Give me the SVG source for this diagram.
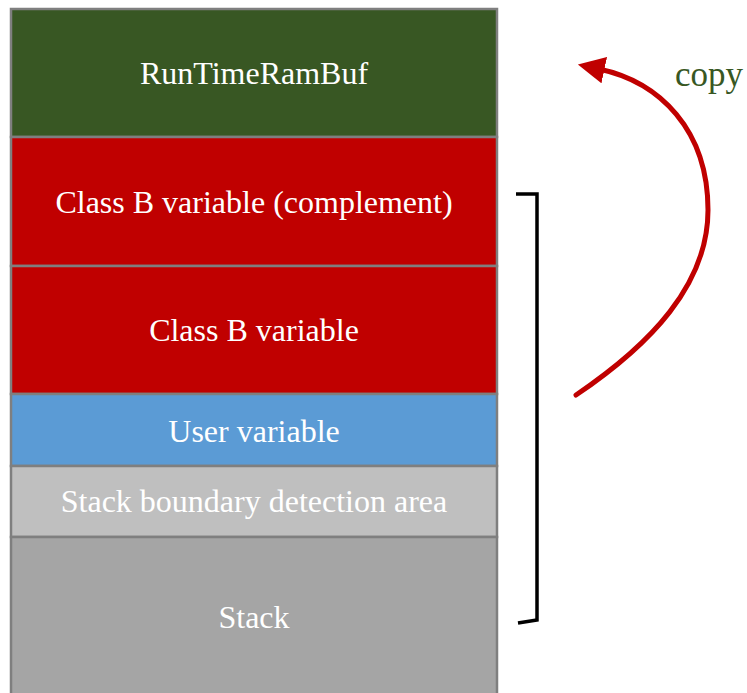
<svg xmlns="http://www.w3.org/2000/svg" width="747" height="693" viewBox="0 0 747 693">
  <defs>
    <style>
      .blk { stroke: #7f7f7f; stroke-width: 2.5; }
      .lbl { font-family: "Liberation Serif", "Times New Roman", serif; font-size: 32px; fill: #ffffff; text-anchor: middle; }
      .copy { font-family: "Liberation Serif", "Times New Roman", serif; font-size: 35px; fill: #385723; }
    </style>
    <marker id="ah" viewBox="0 0 10 10" refX="2" refY="5" markerWidth="5.4" markerHeight="5.4" orient="auto" markerUnits="strokeWidth">
      <path d="M0,0 L10,5 L0,10 z" fill="#c00000"/>
    </marker>
  </defs>
  <rect width="747" height="693" fill="#ffffff"/>

  <!-- memory map blocks -->
  <g id="runtime-ram-buf">
    <rect class="blk" x="11" y="9" width="486" height="128" fill="#385723"/>
    <text class="lbl" x="254" y="84">RunTimeRamBuf</text>
  </g>
  <g id="class-b-complement">
    <rect class="blk" x="11" y="137" width="486" height="129" fill="#c00000"/>
    <text class="lbl" x="254" y="213">Class B variable (complement)</text>
  </g>
  <g id="class-b">
    <rect class="blk" x="11" y="266" width="486" height="128" fill="#c00000"/>
    <text class="lbl" x="254" y="341">Class B variable</text>
  </g>
  <g id="user-variable">
    <rect class="blk" x="11" y="394" width="486" height="72" fill="#5b9bd5"/>
    <text class="lbl" x="254" y="442">User variable</text>
  </g>
  <g id="stack-boundary">
    <rect class="blk" x="11" y="466" width="486" height="71" fill="#bfbfbf"/>
    <text class="lbl" x="254" y="512">Stack boundary detection area</text>
  </g>
  <g id="stack">
    <rect class="blk" x="11" y="537" width="486" height="160" fill="#a5a5a5"/>
    <text class="lbl" x="254" y="628">Stack</text>
  </g>

  <!-- connectors -->
  <g id="connectors">
    <path d="M516,194 L537,194 L537,620 L518,623" fill="none" stroke="#000000" stroke-width="3.5" stroke-linejoin="miter"/>
    <path d="M576,395 C650,345 708,285 708,210 C708,130 660,82 599,69" fill="none" stroke="#c00000" stroke-width="5" stroke-linecap="round" marker-end="url(#ah)"/>
  </g>
  <text class="copy" x="675" y="86">copy</text>
</svg>
